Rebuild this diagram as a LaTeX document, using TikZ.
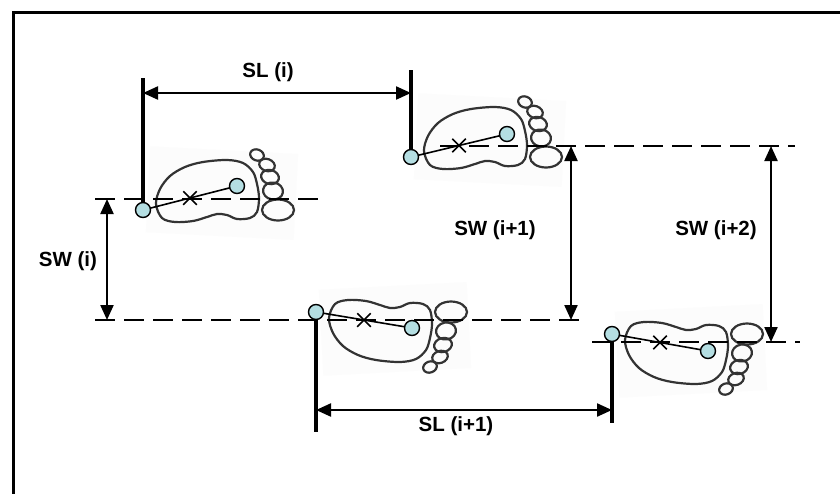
\documentclass[tikz,border=0pt]{standalone}
\usepackage{fontspec}
\setmainfont{Liberation Sans}
\usetikzlibrary{arrows.meta,shapes.misc,calc}
\definecolor{jointblue}{RGB}{180,222,226}
\tikzset{
  frameline/.style={line width=3.5pt},
  extline/.style={line width=3.2pt},
  dimline/.style={line width=2.2pt,
    {Triangle[length=15pt,width=13pt]}-{Triangle[length=15pt,width=13pt]}},
  guide/.style={line width=2.6pt, dash pattern=on 20pt off 9pt},
  footline/.style={draw=black!80, line width=2.2pt},
  axisline/.style={line width=1.6pt},
  joint/.style={circle, draw, line width=1.4pt, fill=jointblue,
    minimum size=15pt, inner sep=0pt},
  centremark/.style={cross out, draw, line width=1.5pt,
    minimum size=12pt, inner sep=0pt},
  lab/.style={font=\bfseries\fontsize{20.5}{24}\selectfont, inner sep=0pt},
  footmark/.pic={
    % faint paper behind the print
    \fill[black!1.2, rotate=-3] (4,-64) rectangle (152,22);
    % sole
    \draw[footline] plot[smooth cycle, tension=0.55] coordinates {
      (13,-6) (17,-21) (27,-34) (42,-43) (60,-48) (84,-50) (100,-47)
      (110,-38) (114,-26) (116,-12) (114,2) (107,8) (94,9) (84,5)
      (74,4) (64,7) (50,11) (32,12) (19,8)};
    % toes, smallest first
    \draw[footline, rotate around={-20:(114,-55)}] (114,-55) ellipse [x radius=7pt, y radius=5.5pt];
    \draw[footline, rotate around={-20:(124,-45)}] (124,-45) ellipse [x radius=8pt, y radius=6pt];
    \draw[footline, rotate around={-15:(127,-33)}] (127,-33) ellipse [x radius=9pt, y radius=7pt];
    \draw[footline, rotate around={-10:(130,-19)}] (130,-19) ellipse [x radius=10pt, y radius=8.5pt];
    \draw[footline] (135,0) ellipse [x radius=16pt, y radius=10.5pt];
  }
}
\begin{document}
\begin{tikzpicture}[x=1pt,y=-1pt]
\useasboundingbox (0,0) rectangle (840,493);
\clip (0,0) rectangle (840,493);
\fill[white] (0,0) rectangle (840,493);
\draw[frameline] (13.5,12.5) rectangle (870,520);

% heel and toe joints of the four steps
\coordinate (h1) at (143,210); \coordinate (t1) at (237,186);
\coordinate (h2) at (411,157); \coordinate (t2) at (507,134);
\coordinate (h3) at (316,312); \coordinate (t3) at (412,328);
\coordinate (h4) at (612,334); \coordinate (t4) at (708,351);

% footprints
\pic at (h1) {footmark};
\pic at (h2) {footmark};
\pic[yscale=-1] at (h3) {footmark};
\pic[yscale=-1] at (h4) {footmark};

% guide lines through the foot centres
\coordinate (g1a) at (95,199);  \coordinate (g1b) at (318,199);
\coordinate (g2a) at (440,146); \coordinate (g2b) at (795,146);
\coordinate (g3a) at (95,320);  \coordinate (g3b) at (584,320);
\coordinate (g4a) at (592,342); \coordinate (g4b) at (800,342);
\draw[guide] (g1a) -- (g1b);
\draw[guide] (g2a) -- (g2b);
\draw[guide] (g3a) -- (g3b);
\draw[guide] (g4a) -- (g4b);

% extension lines from the heels
\coordinate (e1) at (143,78);
\coordinate (e2) at (411,70);
\coordinate (e3) at (316,432);
\coordinate (e4) at (612,423);
\draw[extline] (h1) -- (e1);
\draw[extline] (h2) -- (e2);
\draw[extline] (h3) -- (e3);
\draw[extline] (h4) -- (e4);

% dimension arrows
\coordinate (sl1a) at (143,93);  \coordinate (sl1b) at (411,93);
\coordinate (sl2a) at (316,410); \coordinate (sl2b) at (612,410);
\coordinate (sw1a) at (107,199); \coordinate (sw1b) at (107,320);
\coordinate (sw2a) at (571,146); \coordinate (sw2b) at (571,320);
\coordinate (sw3a) at (771,146); \coordinate (sw3b) at (771,342);
\draw[dimline] (sl1a) -- (sl1b);
\draw[dimline] (sl2a) -- (sl2b);
\draw[dimline] (sw1a) -- (sw1b);
\draw[dimline] (sw2a) -- (sw2b);
\draw[dimline] (sw3a) -- (sw3b);

% foot axes with centre marks
\foreach \i in {1,2,3,4}{
  \draw[axisline] (h\i) -- (t\i);
  \node[centremark] (c\i) at ($(h\i)!0.5!(t\i)$) {};
  \node[joint] (heel\i) at (h\i) {};
  \node[joint] (toe\i) at (t\i) {};
}

% labels
\node[lab] (lsl1) at (268,72)  {SL (i)};
\node[lab] (lsl2) at (456,426) {SL (i+1)};
\node[lab] (lsw1) at (68,261)  {SW (i)};
\node[lab] (lsw2) at (495,230) {SW (i+1)};
\node[lab] (lsw3) at (716,230) {SW (i+2)};
\end{tikzpicture}
\end{document}
